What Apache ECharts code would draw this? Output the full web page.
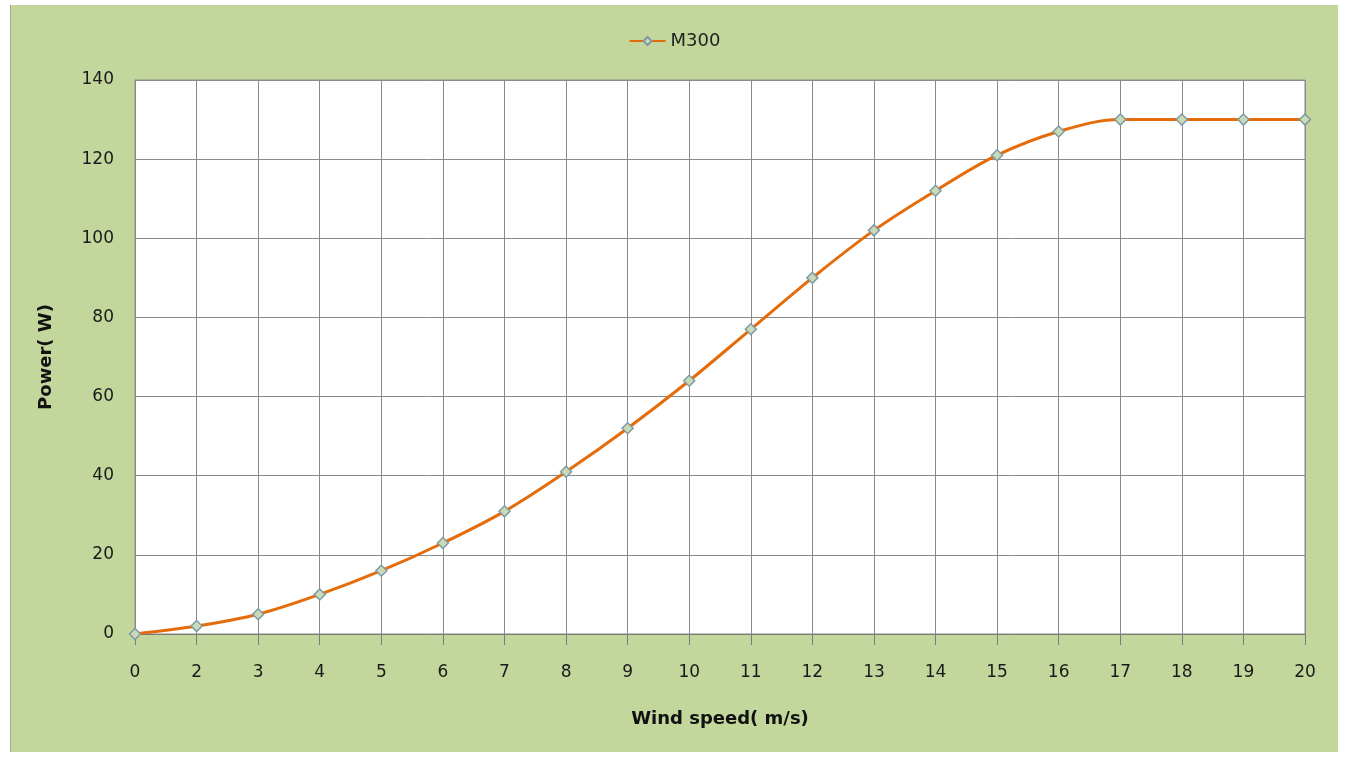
<!DOCTYPE html>
<html><head><meta charset="utf-8">
<script src="https://cdn.jsdelivr.net/npm/echarts@6/dist/echarts.min.js"></script>
<style>
html,body{margin:0;padding:0;background:#fff;width:1352px;height:758px;overflow:hidden}
#chart{position:absolute;left:10px;top:5px;width:1328px;height:747px;background:#c3d69b;border-left:1px solid #9aa98a;box-sizing:border-box}
</style></head>
<body><div id="chart"></div>
<script>
const windSpeeds = ['0','2','3','4','5','6','7','8','9','10','11','12','13','14','15','16','17','18','19','20'];
const powerM300 = [0,2,5,10,16,23,31,41,52,64,77,90,102,112,121,127,130,130,130,130];
const yTicks = {min:0, max:140, interval:20};

const chart = echarts.init(document.getElementById('chart'), null, {renderer:'canvas'});
const font = 'Verdana, "DejaVu Sans", sans-serif';
chart.setOption({
  backgroundColor: 'transparent',
  animation: false,
  legend: {
    top: 22, left: 'center',
    itemWidth: 36, itemHeight: 10, itemGap: 4,
    textStyle: {fontFamily: font, fontSize: 18, color: '#222'},
    data: ['M300']
  },
  grid: {
    left: 124, top: 75, right: 33, bottom: 118,
    show: true, backgroundColor: '#fff', borderColor: '#8a8a8a', borderWidth: 1
  },
  xAxis: {
    type: 'category', boundaryGap: false, data: windSpeeds,
    name: 'Wind speed( m/s)', nameLocation: 'middle', nameGap: 76,
    nameTextStyle: {fontFamily: font, fontSize: 18, fontWeight: 'bold', color: '#111'},
    axisLine: {show: true, lineStyle: {color: '#7a7a7a', width: 1}},
    axisTick: {show: true, inside: false, length: 11, lineStyle: {color: '#7a7a7a', width: 1}},
    axisLabel: {fontFamily: font, fontSize: 17, color: '#1a1a1a', margin: 30},
    splitLine: {show: true, lineStyle: {color: '#8a8a8a', width: 1}}
  },
  yAxis: {
    type: 'value', min: yTicks.min, max: yTicks.max, interval: yTicks.interval,
    name: 'Power( W)', nameLocation: 'middle', nameGap: 80,
    nameTextStyle: {fontFamily: font, fontSize: 18, fontWeight: 'bold', color: '#111'},
    axisLine: {show: true, lineStyle: {color: '#8a8a8a'}},
    axisTick: {show: false},
    axisLabel: {fontFamily: font, fontSize: 17, color: '#1a1a1a', margin: 21},
    splitLine: {show: true, lineStyle: {color: '#8a8a8a', width: 1}}
  },
  series: [{
    name: 'M300', type: 'line', smooth: 0.35, data: powerM300,
    symbol: 'diamond', symbolSize: 11,
    lineStyle: {color: '#e46c0a', width: 3},
    itemStyle: {color: '#c9dab5', borderColor: '#7f9aa6', borderWidth: 1.5}
  }]
});
</script></body></html>
